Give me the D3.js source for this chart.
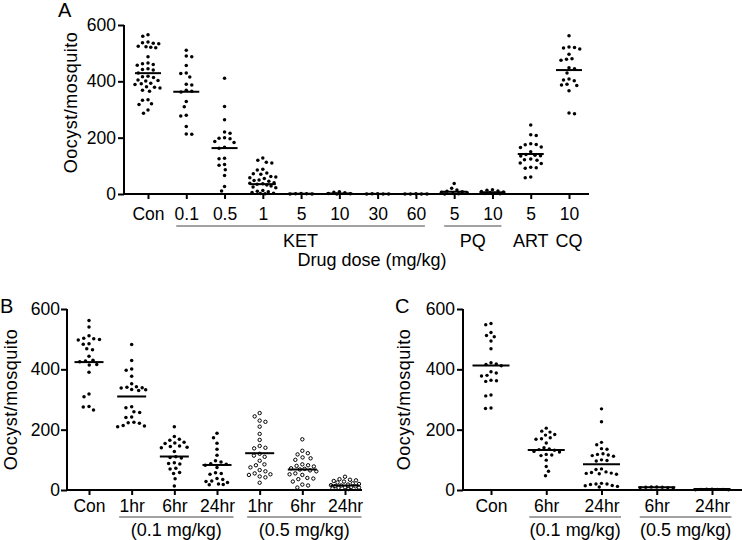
<!DOCTYPE html>
<html><head><meta charset="utf-8">
<script src="https://cdn.jsdelivr.net/npm/d3@7"></script>
<style>
body{margin:0;background:#fff}
text{font-family:"Liberation Sans",Arial,Helvetica,sans-serif;fill:#000}
</style>
</head><body>
<svg id="chart" width="742" height="540"></svg>
<script>
// ---------------- DATA ----------------
const yTicks = [0, 200, 400, 600];
const yTitle = "Oocyst/mosquito";

// Panel A
const catsA = ["Con","0.1","0.5","1","5","10","30","60","5","10","5","10"];
const conA   = [565,560,540,537,535,533,525,523,521,519,487,465,462,460,457,445,442,440,430,418,416,414,405,403,401,393,391,389,381,379,376,368,365,335,333,320,318,298,287];
const ket01A = [510,490,487,456,430,428,415,390,387,368,365,362,328,310,280,277,240,213,212];
const ket05A = [411,311,264,220,216,200,198,196,186,183,166,162,127,125,105,102,86,66,27,11];
const ket1A  = [128,120,113,110,88,85,75,72,70,62,60,58,55,50,48,45,40,38,36,35,32,28,25,22,12,10,8,5,3,2,1];
const ket5A  = [2,1,1,0,0];
const ket10A = [8,6,4,2,1,0];
const ket30A = [1,1,0,0,0];
const ket60A = [1,0,0,0,0];
const pq5A   = [37,20,14,10,8,6,4,2,1,0];
const pq10A  = [15,13,11,9,7,5,3,2,1];
const art5A  = [245,210,208,178,176,175,167,165,150,140,138,136,135,124,122,120,110,108,95,93,91,60,58];
const cq10A  = [562,522,520,518,515,496,480,478,475,448,445,430,408,405,402,390,387,385,367,288,285];
const valsA  = [conA,ket01A,ket05A,ket1A,ket5A,ket10A,ket30A,ket60A,pq5A,pq10A,art5A,cq10A];
const meansA = [429,363,163,35,1,2,0.5,0.5,8,6,142,440];
const groupsA = [{label:"KET",from:1,to:7},{label:"PQ",from:8,to:9}];
const singlesA = [{label:"ART",at:10},{label:"CQ",at:11}];
const xTitleA = "Drug dose (mg/kg)";

// Panel B
const catsB = ["Con","1hr","6hr","24hr","1hr","6hr","24hr"];
const conB    = [562,540,511,503,501,499,497,485,483,468,465,443,430,428,425,416,414,390,318,309,277,275,265];
const h1B     = [482,429,401,397,377,352,342,341,339,338,333,332,330,276,273,259,257,242,240,225,223,221,214,212,210];
const h6B     = [210,177,168,165,158,156,154,146,144,142,140,128,110,108,106,90,88,86,72,70,58,55,37,13];
const h24B    = [188,173,155,135,115,97,93,87,85,82,75,57,55,52,38,35,30,28,25,20,18,17];
const h1hiB   = [255,244,230,226,210,186,166,146,140,138,120,114,110,97,85,82,75,66,62,55,52,50,45,42,24];
const h6hiB   = [168,130,122,118,108,105,100,85,82,80,78,72,70,68,65,62,55,52,50,40,38,36,28,18,15,8];
const h24hiB  = [44,36,34,32,30,28,25,22,20,18,16,15,13,12,10,9,8,7,5,3];
const valsB  = [conB,h1B,h6B,h24B,h1hiB,h6hiB,h24hiB];
const meansB = [424,310,111,83,122,68,15];
const openB  = [false,false,false,false,true,true,true];
const groupsB = [{label:"(0.1 mg/kg)",from:1,to:3},{label:"(0.5 mg/kg)",from:4,to:6}];

// Panel C
const catsC = ["Con","6hr","24hr","6hr","24hr"];
const conC   = [552,548,522,512,508,494,468,422,418,416,412,392,388,380,378,364,362,360,315,312,272,270];
const h6C    = [205,195,192,184,182,173,170,168,156,140,136,134,132,128,126,118,116,114,99,78,62,47];
const h24C   = [269,226,158,150,137,135,120,118,116,114,112,100,98,96,70,68,60,58,56,55,54,52,22,20,20,18,15,14,12,10];
const h6hiC  = [10,10,9,9,8,8,7];
const h24hiC = [3,3,2,2,2,1,1];
const valsC  = [conC,h6C,h24C,h6hiC,h24hiC];
const meansC = [413,133,85,9,3];
const groupsC = [{label:"(0.1 mg/kg)",from:1,to:2},{label:"(0.5 mg/kg)",from:3,to:4}];

// ---------------- DRAW ----------------
const svg = d3.select("#chart");
const FONT = '"Liberation Sans",Arial,Helvetica,sans-serif';

function swarm(vals, y, D, cap){
  const pts = vals.map(v => ({v, y: y(v), dx: 0})).sort((a,b)=>a.y-b.y);
  const placed = [];
  let toggle = 1;
  const minDist = (dx, py) => {
    let m = Infinity;
    for (const q of placed){
      const ddx = q.dx - dx, ddy = q.y - py;
      m = Math.min(m, Math.sqrt(ddx*ddx + ddy*ddy));
    }
    return m;
  };
  for (const p of pts){
    let found = false;
    for (let s = 0; s <= cap && !found; s += 0.25){
      const cands = s === 0 ? [0] : [toggle*s, -toggle*s];
      for (const dx of cands){
        if (minDist(dx, p.y) >= D - 1e-6){ p.dx = dx; found = true; toggle = -toggle; break; }
      }
    }
    if (!found){
      let best = 0, bestD = -1;
      for (let dx = -cap; dx <= cap; dx += 0.25){
        const m = minDist(dx, p.y);
        if (m > bestD){ bestD = m; best = dx; }
      }
      p.dx = best;
    }
    placed.push(p);
  }
  return placed;
}

function panel(cfg){
  const g = svg.append("g");
  const idx = cfg.cats.map((_,i)=>i);
  const x = d3.scalePoint().domain(idx).range([cfg.xFirst, cfg.xLast]);
  const y = d3.scaleLinear().domain([0,600]).range([cfg.yBottom, cfg.yTop]);

  // marks
  cfg.vals.forEach((vals,i)=>{
    const open = cfg.open ? cfg.open[i] : false;
    const pts = swarm(vals, y, open ? cfg.Dopen : cfg.D, cfg.cap);
    g.append("g").selectAll("circle").data(pts).join("circle")
      .attr("cx", d => x(i) + d.dx)
      .attr("cy", d => d.y)
      .attr("r", open ? cfg.rOpen : cfg.r)
      .attr("fill", open ? "#fff" : "#000")
      .attr("stroke", open ? "#000" : "none")
      .attr("stroke-width", open ? 1 : 0);
    g.append("line")
      .attr("x1", x(i) - cfg.meanW/2).attr("x2", x(i) + cfg.meanW/2)
      .attr("y1", y(cfg.means[i])).attr("y2", y(cfg.means[i]))
      .attr("stroke", "#000").attr("stroke-width", 2);
  });

  // y axis
  const ya = g.append("g").attr("transform", `translate(${cfg.yAxisX},0)`)
    .call(d3.axisLeft(y).tickValues(yTicks).tickSize(6).tickSizeOuter(0).tickPadding(cfg.yPad));
  ya.select(".domain").attr("stroke-width", 2).attr("d", `M0,${cfg.yBottom+1}V${cfg.yTop}`);
  ya.selectAll(".tick line").attr("stroke-width", 2);
  ya.selectAll(".tick text").style("font-size", "17.5px").style("font-family", FONT);

  // x axis
  const xa = g.append("g").attr("transform", `translate(0,${cfg.yBottom})`)
    .call(d3.axisBottom(x).tickSize(5).tickSizeOuter(0).tickPadding(cfg.xPad).tickFormat(i=>cfg.cats[i]));
  xa.select(".domain").remove();
  xa.selectAll(".tick line").attr("stroke-width", 2);
  xa.selectAll(".tick text").style("font-size", "17.5px").style("font-family", FONT);
  g.append("line").attr("x1", cfg.yAxisX - 1).attr("x2", cfg.xEnd)
    .attr("y1", cfg.yBottom).attr("y2", cfg.yBottom)
    .attr("stroke", "#000").attr("stroke-width", 2);

  // group underlines + labels
  (cfg.groups||[]).forEach(gr=>{
    const x1 = x(gr.from) - cfg.gPadL, x2 = x(gr.to) + cfg.gPadR;
    g.append("line").attr("x1", x1).attr("x2", x2)
      .attr("y1", cfg.gLineY).attr("y2", cfg.gLineY)
      .attr("stroke", "#444").attr("stroke-width", 1);
    g.append("text").attr("x", (x1+x2)/2).attr("y", cfg.gTextY)
      .attr("text-anchor", "middle").style("font-size", "18px").text(gr.label);
  });
  (cfg.singles||[]).forEach(s=>{
    g.append("text").attr("x", x(s.at)).attr("y", cfg.gTextY)
      .attr("text-anchor", "middle").style("font-size", "18px").text(s.label);
  });

  // y title (baseline at yTitleX)
  g.append("text")
    .attr("transform", `translate(${cfg.yTitleX},${(cfg.yBottom+cfg.yTop)/2 + cfg.yTitleShift}) rotate(-90)`)
    .attr("text-anchor", "middle")
    .style("font-size", "18px").style("letter-spacing", "0.5px").text(yTitle);

  // panel letter
  g.append("text").attr("x", cfg.letterX).attr("y", cfg.letterY)
    .style("font-size", "20px").text(cfg.letter);

  if (cfg.xTitle){
    g.append("text").attr("x", cfg.xTitleX).attr("y", cfg.xTitleY)
      .attr("text-anchor", "middle").style("font-size", "18px").text(cfg.xTitle);
  }
}

panel({letter:"A", letterX:58, letterY:17, cats:catsA, vals:valsA, means:meansA,
  xFirst:148, xLast:569, yBottom:194, yTop:25, yAxisX:124, xEnd:589,
  r:1.75, D:5.4, cap:13, meanW:26, xPad:9, yPad:2,
  groups:groupsA, singles:singlesA, gPadL:10, gPadR:9, gLineY:226, gTextY:247,
  yTitleX:77, yTitleShift:-7, xTitle:xTitleA, xTitleX:372, xTitleY:266});

panel({letter:"B", letterX:0, letterY:313, cats:catsB, vals:valsB, means:meansB, open:openB,
  xFirst:89, xLast:345, yBottom:490, yTop:309, yAxisX:67, xEnd:362,
  r:1.75, D:5.6, cap:14, rOpen:1.7, Dopen:5.8, meanW:29, xPad:5, yPad:1,
  groups:groupsB, gPadL:12.5, gPadR:16.5, gLineY:517, gTextY:536,
  yTitleX:17, yTitleShift:0});

panel({letter:"C", letterX:395, letterY:313, cats:catsC, vals:valsC, means:meansC,
  xFirst:491, xLast:712, yBottom:490, yTop:309, yAxisX:463, xEnd:742,
  r:1.7, D:5.3, cap:17, meanW:37, xPad:5, yPad:2,
  groups:groupsC, gPadL:17, gPadR:19.5, gLineY:517, gTextY:536,
  yTitleX:410, yTitleShift:0});
</script>
</body></html>
